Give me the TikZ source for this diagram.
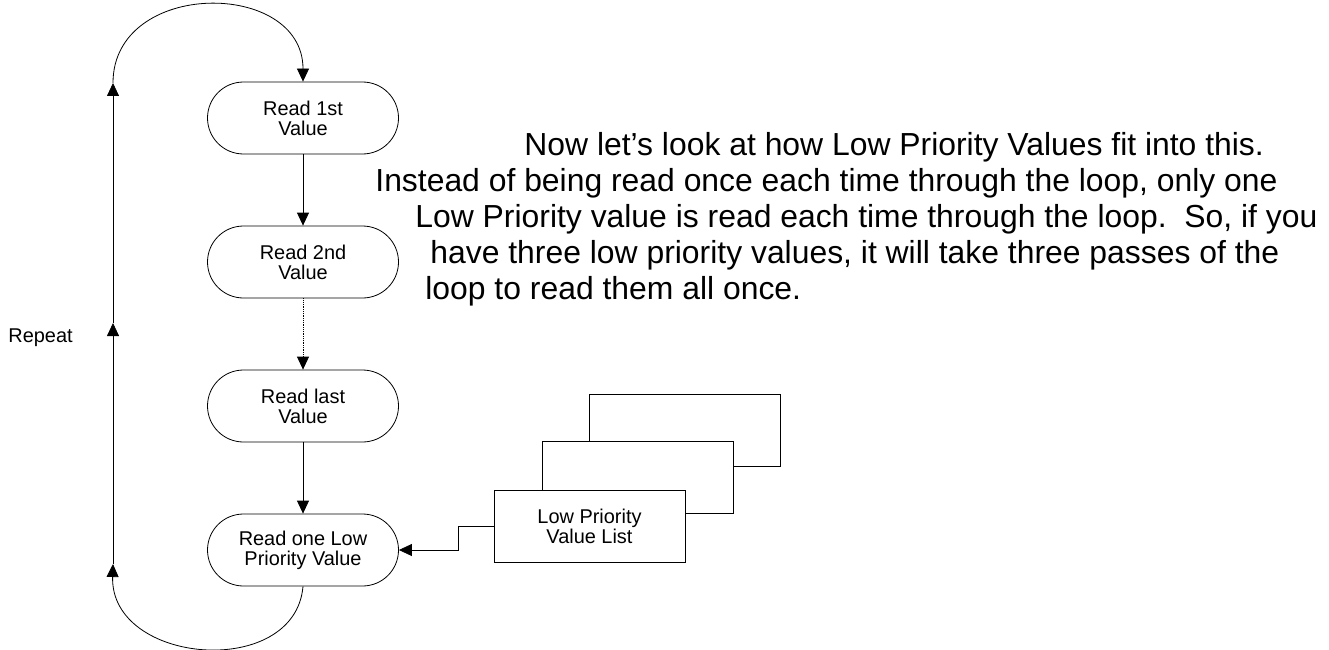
\documentclass[tikz,border=0pt]{standalone}
\usepackage{fontspec}
\setmainfont{Liberation Sans}
\usetikzlibrary{arrows.meta}

\begin{document}
\begin{tikzpicture}[x=1bp, y=-1bp, line width=0.8bp,
    arr/.style={-{Triangle[length=13bp,width=12bp]}},
    stadium/.style={draw, rounded corners=36bp, minimum width=191bp, minimum height=72bp,
      inner sep=0pt, align=center, font=\fontsize{20}{20}\selectfont},
    listbox/.style={draw, fill=white, minimum width=191bp, minimum height=72bp,
      inner sep=0pt, align=center, font=\fontsize{20}{20}\selectfont},
    body/.style={anchor=base west, inner sep=0pt, font=\fontsize{32}{36}\selectfont}]
    \useasboundingbox (0,0) rectangle (1329,650);
    % the loop of reads
    \node[stadium] (rd1) at (303,118) {Read 1st\\Value};
    \node[stadium] (rd2) at (303,262) {Read 2nd\\Value};
    \node[stadium] (rdlast) at (303,406) {Read last\\Value};
    \node[stadium] (rdlow) at (303,550) {Read one Low\\Priority Value};
    \draw[arr] (rd1) -- (rd2);
    \draw[arr, densely dotted] (rd2) -- (rdlast);
    \draw[arr] (rdlast) -- (rdlow);
    % repeat line on the left
    \coordinate (loopbot) at (113,564);
    \coordinate (loopmid) at (113,323);
    \coordinate (looptop) at (113,83);
    \draw[arr] (rdlow.south) .. controls (295,680) and (110,665) .. (loopbot);
    \draw[arr] (loopbot) -- (loopmid);
    \draw[arr] (loopmid) -- (looptop);
    \draw[arr] (looptop) .. controls (113,-21) and (303,-21) .. (rd1.north);
    \node[anchor=base west, inner sep=0pt, font=\fontsize{20}{20}\selectfont] (rep) at (8,342) {Repeat};
    % stacked value lists
    \node[listbox] (lst3) at (685,430) {};
    \node[listbox] (lst2) at (637.5,477.5) {};
    \node[listbox] (lst) at (589.5,526) {Low Priority\\Value List};
    \draw[arr] (lst.west) -- ++(-35,0) |- (rdlow.east);
    % text
    \node[body] (l1) at (524,155) {Now let’s look at how Low Priority Values fit into this.};
    \node[body] (l2) at (375,191) {Instead of being read once each time through the loop, only one};
    \node[body] (l3) at (415,227) {Low Priority value is read each time through the loop.\ \ So, if you};
    \node[body] (l4) at (430,263) {have three low priority values, it will take three passes of the};
    \node[body] (l5) at (425,299) {loop to read them all once.};
\end{tikzpicture}
\end{document}
